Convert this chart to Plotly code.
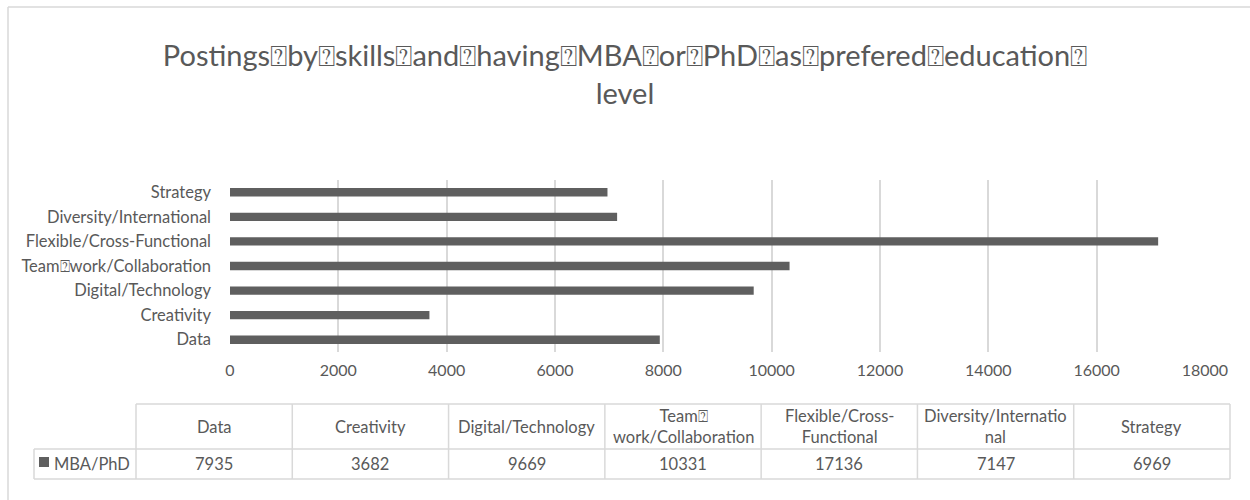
import plotly.graph_objects as go

# Postings per skill where MBA/PhD is the preferred education level
BOX = "\u2370"
categories = ["Data", "Creativity", "Digital/Technology", f"Team{BOX}work/Collaboration",
              "Flexible/Cross-Functional", "Diversity/International", "Strategy"]
values = [7935, 3682, 9669, 10331, 17136, 7147, 6969]
table_headers = ["Data", "Creativity", "Digital/Technology", f"Team{BOX}<br>work/Collaboration",
                 "Flexible/Cross-<br>Functional", "Diversity/Internatio<br>nal", "Strategy"]
series_name = "MBA/PhD"
x_ticks = [0, 2000, 4000, 6000, 8000, 10000, 12000, 14000, 16000, 18000]
x_tick_labels = [str(v) for v in x_ticks]
title_words = ["Postings", "by", "skills", "and", "having", "MBA", "or", "PhD", "as",
               "prefered", "education"]

W, H = 1250, 500
TEXT = "#595959"
GRID = "#d9d9d9"
BAR = "#5f5f5f"
FONT = "Lato"


def px(x):
    return x / W


def py(y):
    return 1 - y / H


fig = go.Figure(go.Bar(
    x=values, y=categories, orientation="h",
    marker=dict(color=BAR, line=dict(width=0)),
    name=series_name, showlegend=False,
))

title_text = BOX.join(title_words) + BOX + "<br>level"

fig.update_layout(
    width=W, height=H,
    margin=dict(l=0, r=0, t=0, b=0, autoexpand=False),
    paper_bgcolor="white", plot_bgcolor="white",
    font=dict(family=FONT, color=TEXT, size=16),
    bargap=0.66,
    showlegend=False,
    title=dict(text=title_text, x=0.5, xanchor="center", y=py(66), yanchor="top",
               font=dict(size=29, color=TEXT, family=FONT)),
    xaxis=dict(domain=[px(230), px(1205)], range=[0, 18001], tickvals=x_ticks,
               ticktext=x_tick_labels, automargin=False,
               showgrid=True, gridcolor=GRID, gridwidth=1.5, zeroline=False,
               showline=False, ticks="", tickfont=dict(size=16, color=TEXT),
               ticklabelstandoff=7, fixedrange=True),
    yaxis=dict(domain=[py(352), py(180)], categoryorder="array", categoryarray=categories,
               automargin=False,
               showgrid=False, zeroline=False, showline=False, ticks="",
               tickfont=dict(size=16.5, color=TEXT), ticklabelstandoff=18, fixedrange=True),
)

shapes = []
# chart frame (top and left edges)
shapes.append(dict(type="line", xref="paper", yref="paper", x0=px(8), x1=px(1250), y0=py(7), y1=py(7),
                   line=dict(color=GRID, width=1.5)))
shapes.append(dict(type="line", xref="paper", yref="paper", x0=px(8), x1=px(8), y0=py(7), y1=py(500),
                   line=dict(color=GRID, width=1.5)))

# data table grid
t_left, t_right = 136, 1230
leg_left = 34
t_top, t_mid, t_bot = 404, 449, 479
ncol = len(categories)
cw = (t_right - t_left) / ncol


def hline(x0, x1, y):
    shapes.append(dict(type="line", xref="paper", yref="paper", x0=px(x0), x1=px(x1),
                       y0=py(y), y1=py(y), line=dict(color=GRID, width=1.5)))


def vline(x, y0, y1):
    shapes.append(dict(type="line", xref="paper", yref="paper", x0=px(x), x1=px(x),
                       y0=py(y0), y1=py(y1), line=dict(color=GRID, width=1.5)))


hline(t_left, t_right, t_top)
hline(leg_left, t_right, t_mid)
hline(leg_left, t_right, t_bot)
vline(leg_left, t_mid, t_bot)
for i in range(ncol + 1):
    vline(t_left + i * cw, t_top, t_bot)

# legend key in the table
shapes.append(dict(type="rect", xref="paper", yref="paper", x0=px(39), x1=px(49),
                   y0=py(467), y1=py(457), fillcolor=BAR, line=dict(width=0)))

annotations = []
for i, (hdr, val) in enumerate(zip(table_headers, values)):
    cx = t_left + (i + 0.5) * cw
    annotations.append(dict(x=px(cx), y=py((t_top + t_mid) / 2), xref="paper", yref="paper",
                            text=hdr, showarrow=False, xanchor="center", yanchor="middle",
                            font=dict(size=16.5, color=TEXT, family=FONT)))
    annotations.append(dict(x=px(cx), y=py((t_mid + t_bot) / 2), xref="paper", yref="paper",
                            text=str(val), showarrow=False, xanchor="center", yanchor="middle",
                            font=dict(size=16.5, color=TEXT, family=FONT)))
annotations.append(dict(x=px(52), y=py((t_mid + t_bot) / 2), xref="paper", yref="paper",
                        text=series_name, showarrow=False, xanchor="left", yanchor="middle",
                        font=dict(size=16.5, color=TEXT, family=FONT)))

fig.update_layout(shapes=shapes, annotations=annotations)

fig.write_html("out.html")
